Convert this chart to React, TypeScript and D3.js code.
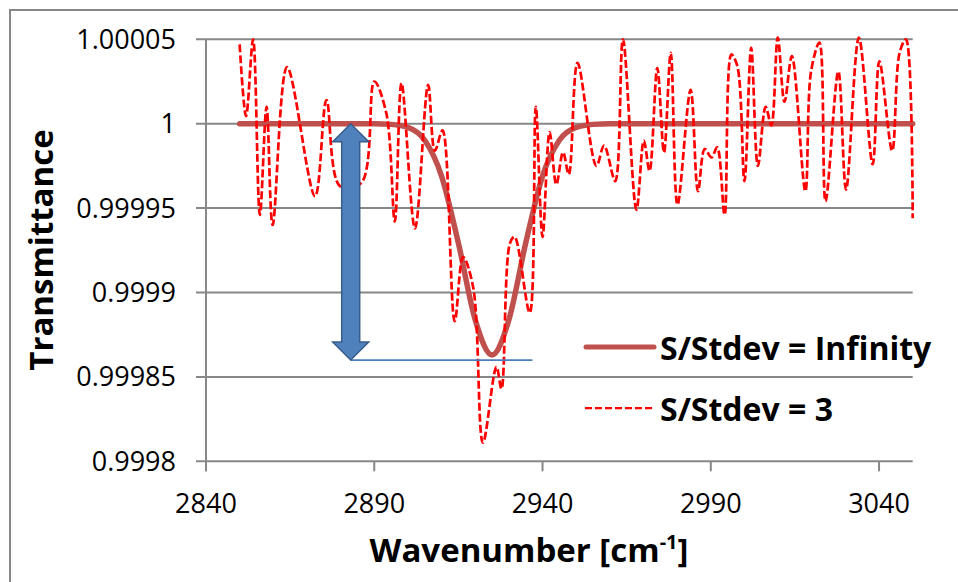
import React from "react";
import * as d3 from "d3";

// Axis ticks
const X_TICKS = [2840, 2890, 2940, 2990, 3040];
const Y_TICKS = [0.9998, 0.99985, 0.9999, 0.99995, 1, 1.00005];
const Y_TICK_LABELS = ["0.9998", "0.99985", "0.9999", "0.99995", "1", "1.00005"];

// Noise-free band (S/Stdev = Infinity): [wavenumber, transmittance]
const SERIES_INFINITY: [number, number][] = [
  [2850, 1], [2870, 1], [2890, 1], [2895, 0.9999996], [2900, 0.9999978],
  [2905, 0.9999902], [2910, 0.999969], [2915, 0.9999292], [2920, 0.9998838],
  [2925, 0.999863], [2930, 0.9998838], [2935, 0.9999292], [2940, 0.999969],
  [2945, 0.9999902], [2950, 0.9999978], [2955, 0.9999996], [2960, 1],
  [3000, 1], [3050, 1],
];

// Noisy band (S/Stdev = 3): [wavenumber, transmittance]
const SERIES_S3: [number, number][] = [
  [2850, 1.000047], [2851.9, 1.0000045], [2854, 1.00005], [2856, 0.999946],
  [2858, 1.00001], [2859.8, 0.99994], [2864.1, 1.0000335], [2872.4, 0.999957],
  [2875.8, 1.000014], [2879.8, 0.999963], [2886.2, 0.999965], [2890, 1.000025],
  [2893.6, 1.000006], [2896.1, 0.999942], [2898.1, 1.000024], [2902.1, 0.999938],
  [2906, 1.000023], [2908, 0.999984], [2910.3, 0.999996], [2913.9, 0.999883],
  [2916.4, 0.999921], [2919.4, 0.999903], [2922.3, 0.999811], [2926.3, 0.999856],
  [2927.8, 0.999843], [2930.3, 0.999929], [2931.7, 0.999933], [2936.2, 0.999888],
  [2938, 1.00001], [2940, 0.999933], [2942.1, 0.999995], [2944.1, 0.999964],
  [2946.1, 0.999983], [2947.8, 0.99997], [2950.4, 1.000036], [2956, 0.999975],
  [2958.3, 0.999987], [2961.6, 0.999966], [2963.9, 1.00005], [2967.9, 0.999949],
  [2970.1, 0.99999], [2971.8, 0.999972], [2974.1, 1.000033], [2976.1, 0.999983],
  [2978.1, 1.000042], [2980.1, 0.999952], [2984, 1.00002], [2986.2, 0.99996],
  [2988.2, 0.999985], [2990.2, 0.99998], [2991.9, 0.999986], [2994.1, 0.999946],
  [2996.1, 1.000041], [2997.9, 1.000034], [3000, 0.999966], [3002, 1.000045],
  [3004, 0.999975], [3006.3, 1.00001], [3008, 0.999999], [3009.9, 1.000051],
  [3011.9, 1.000013], [3014.1, 1.00004], [3018.1, 0.99996], [3019.8, 1.000031],
  [3022.3, 1.000048], [3024.1, 0.999954], [3027.9, 1.000031], [3030.2, 0.999961],
  [3034, 1.000051], [3038.1, 0.999976], [3040.1, 1.000037], [3043.9, 0.999984],
  [3046.1, 1.000042], [3048, 1.00005], [3050, 0.999944],
];

// Depth annotation: double arrow from baseline to band minimum
const ARROW_X = 2883;
const ARROW_TOP = 1;
const ARROW_BOTTOM = 0.99986;
const DEPTH_LINE_END = 2937;

const LEGEND = [
  { label: "S/Stdev = Infinity", kind: "solid" },
  { label: "S/Stdev = 3", kind: "dashed" },
];

const W = 958;
const H = 582;
const FONT = "'Open Sans', 'DejaVu Sans', sans-serif";
const GRID = "#878787";
const RED_SOLID = "#c0504d";
const RED_DASH = "#ff0000";

export default function App() {
  const x = d3.scaleLinear().domain([2840, 3050]).range([206, 912.7]);
  const y = d3.scaleLinear().domain([0.9998, 1.00005]).range([461.3, 39.3]);

  const solidLine = d3
    .line<[number, number]>()
    .x((d) => x(d[0]))
    .y((d) => y(d[1]))
    .curve(d3.curveMonotoneX);

  const noisyLine = d3
    .line<[number, number]>()
    .x((d) => x(d[0]))
    .y((d) => y(d[1]))
    .curve(d3.curveCatmullRom.alpha(0.5));

  const [x0, x1] = x.range();
  const yBase = y(0.9998);

  // double-headed arrow geometry
  const ax = x(ARROW_X);
  const aTop = y(ARROW_TOP);
  const aBot = y(ARROW_BOTTOM);
  const shaft = 9;
  const head = 18;
  const headLen = 18;
  const arrowPath = [
    `M${ax},${aTop}`,
    `L${ax + head},${aTop + headLen}`,
    `L${ax + shaft},${aTop + headLen}`,
    `L${ax + shaft},${aBot - headLen}`,
    `L${ax + head},${aBot - headLen}`,
    `L${ax},${aBot}`,
    `L${ax - head},${aBot - headLen}`,
    `L${ax - shaft},${aBot - headLen}`,
    `L${ax - shaft},${aTop + headLen}`,
    `L${ax - head},${aTop + headLen}`,
    "Z",
  ].join(" ");

  return (
    <svg
      width={W}
      height={H}
      style={{ position: "absolute", left: 0, top: 0, background: "#fff" }}
      fontFamily={FONT}
    >
      <rect x={0} y={0} width={W} height={H} fill="#fff" />
      {/* chart frame */}
      <rect x={10} y={10} width={W + 20} height={H + 20} fill="none" stroke={GRID} strokeWidth={2} />

      {/* horizontal gridlines with left tick stubs */}
      {Y_TICKS.map((t, i) => (
        <g key={`y${i}`}>
          <line x1={x0 - 10} x2={x1} y1={y(t)} y2={y(t)} stroke={GRID} strokeWidth={2} />
          <text
            x={176}
            y={y(t) + 9.5}
            textAnchor="end"
            fontSize={27}
            fill="#000"
          >
            {Y_TICK_LABELS[i]}
          </text>
        </g>
      ))}

      {/* vertical axis */}
      <line x1={x0} x2={x0} y1={y(1.00005)} y2={yBase + 10} stroke={GRID} strokeWidth={2} />

      {/* x ticks */}
      {X_TICKS.map((t) => (
        <g key={`x${t}`}>
          <line x1={x(t)} x2={x(t)} y1={yBase} y2={yBase + 10} stroke={GRID} strokeWidth={2} />
          <text x={x(t)} y={513} textAnchor="middle" fontSize={27} fill="#000">
            {t}
          </text>
        </g>
      ))}

      {/* series */}
      <path
        d={solidLine(SERIES_INFINITY) || ""}
        fill="none"
        stroke={RED_SOLID}
        strokeWidth={5.5}
        strokeLinecap="round"
        strokeLinejoin="round"
      />
      <path
        d={noisyLine(SERIES_S3) || ""}
        fill="none"
        stroke={RED_DASH}
        strokeWidth={2.7}
        strokeDasharray="8,3"
      />

      {/* depth annotation */}
      <line
        x1={ax}
        x2={x(DEPTH_LINE_END)}
        y1={aBot}
        y2={aBot}
        stroke="#4a7ebb"
        strokeWidth={1.75}
      />
      <path d={arrowPath} fill="#4f81bd" stroke="#385d8a" strokeWidth={1.5} strokeLinejoin="miter" />

      {/* legend */}
      {LEGEND.map((item, i) => {
        const cy = 347 + i * 61;
        return (
          <g key={item.label}>
            {item.kind === "solid" ? (
              <line x1={586} x2={654} y1={cy} y2={cy} stroke={RED_SOLID} strokeWidth={5} strokeLinecap="round" />
            ) : (
              <line x1={585} x2={655} y1={cy} y2={cy} stroke={RED_DASH} strokeWidth={2.25} strokeDasharray="7,3" />
            )}
            <text x={660} y={cy + 12.5} fontSize={32} fontWeight="bold" fill="#000">
              {item.label}
            </text>
          </g>
        );
      })}

      {/* axis titles */}
      <text
        transform={`translate(53, 250) rotate(-90)`}
        textAnchor="middle"
        fontSize={33}
        fontWeight="bold"
        fill="#000"
      >
        Transmittance
      </text>
      <text x={529} y={562} textAnchor="middle" fontSize={33} fontWeight="bold" fill="#000">
        Wavenumber [cm
        <tspan dy={-13} fontSize={20}>-1</tspan>
        <tspan dy={13}>]</tspan>
      </text>
    </svg>
  );
}
